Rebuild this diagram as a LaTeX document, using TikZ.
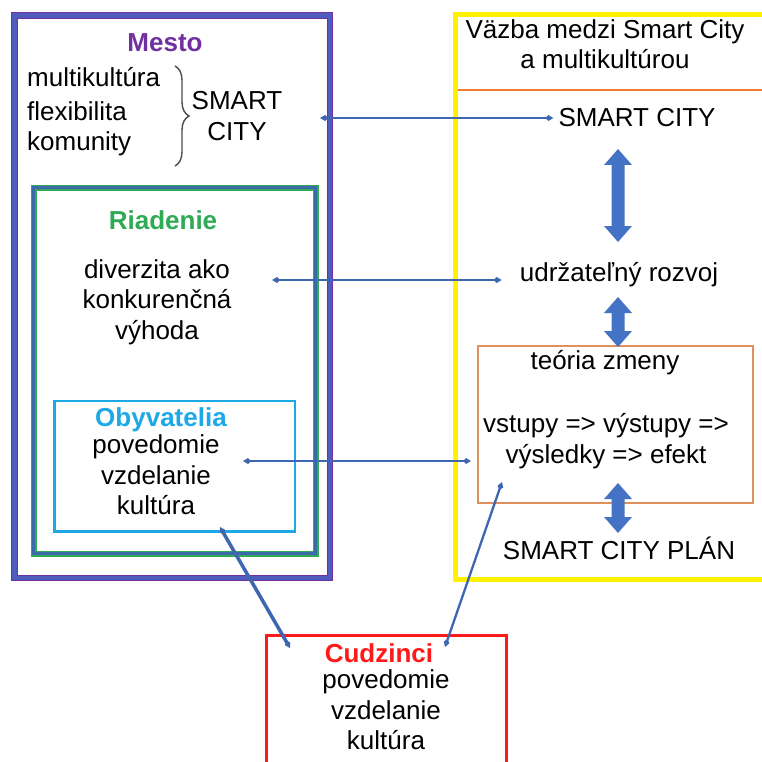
\documentclass[tikz,border=0pt]{standalone}
\usepackage{fontspec}
\setmainfont{Liberation Sans}
\usetikzlibrary{arrows.meta,decorations.pathreplacing}
\definecolor{mestopurple}{HTML}{7030A0}
\definecolor{mestoblue}{HTML}{4F5CBE}
\definecolor{riadgreen}{HTML}{2FAA55}
\definecolor{riadblue}{HTML}{3A6AA8}
\definecolor{obyvblue}{HTML}{1CA9E6}
\definecolor{frameyellow}{HTML}{FFF200}
\definecolor{lineorange}{HTML}{ED7D31}
\definecolor{boxorange}{HTML}{E0905E}
\definecolor{cudzred}{HTML}{FF1A1A}
\definecolor{connblue}{HTML}{3F66B0}
\definecolor{blockblue}{HTML}{4472C4}
% vertical double block arrow: x, top tip, bottom tip
\newcommand\vdblarrow[3]{%
  \fill[blockblue] (#1,#2) -- (#1+14,#2+16) -- (#1+6.5,#2+16) -- (#1+6.5,#3-16)
    -- (#1+14,#3-16) -- (#1,#3) -- (#1-14,#3-16) -- (#1-6.5,#3-16)
    -- (#1-6.5,#2+16) -- (#1-14,#2+16) -- cycle;}
\begin{document}
\begin{tikzpicture}[x=1pt,y=-1pt,
  txt/.style={inner sep=0pt, align=center, font=\fontsize{26}{30.5}\selectfont},
  ltxt/.style={txt, align=left},
  head/.style={txt, font=\fontsize{26}{30.5}\selectfont\bfseries},
  conn/.style={draw=connblue, line width=2.3pt, {Kite[length=8pt,width=6pt,inset=3pt]}-{Kite[length=8pt,width=6pt,inset=3pt]}},
  boxnode/.style={draw, inner sep=0pt}]
\useasboundingbox (0,0) rectangle (762,762);
\clip (0,0) rectangle (762,762);
\fill[white] (0,0) rectangle (762,762);

% outer city frame
\draw[mestopurple, line width=6.5pt] (14.5,15.5) rectangle (330,578);
\draw[mestoblue, line width=4.5pt] (14.5,15.5) rectangle (330,578);
% governance frame
\draw[riadgreen, line width=6pt] (33.5,187.5) rectangle (315.5,553.5);
\draw[riadblue, line width=3.5pt] (33.5,187.5) rectangle (315.5,553.5);
% residents frame
\node[boxnode, draw=obyvblue, line width=2.5pt, minimum width=240.5pt, minimum height=130.5pt] (obox) at (174.75,466.25) {};

% right frame
\draw[frameyellow, line width=5pt] (780,15) -- (455,15) -- (455,579) -- (780,579);
\draw[lineorange, line width=2.5pt] (457.5,90) -- (780,90);
\node[boxnode, draw=boxorange, line width=2pt, minimum width=275pt, minimum height=157pt] (tz) at (615.5,424.5) {};

% foreigners frame
\node[boxnode, draw=cudzred, line width=3pt, minimum width=240pt, minimum height=170pt] (cbox) at (386.5,720) {};

% texts on the left
\node[head, text=mestopurple] (mesto) at (165,43) {Mesto};
\node[ltxt, anchor=west] (multi) at (27,77) {multikultúra};
\node[ltxt, anchor=west] (flex) at (27,129) {flexibilita\\komunity};
\node[txt] (scL) at (237,116) {SMART\\CITY};
\draw[black!70, line width=1.4pt, decorate, decoration={brace, amplitude=14pt}] (175,66) -- (175,166);
\node[head, text=riadgreen] (riad) at (163,220) {Riadenie};
\node[txt] (div) at (157,302) {diverzita ako\\konkurenčná\\výhoda};
\node[head, text=obyvblue] (obyv) at (161,420) {Obyvatelia};
\node[txt] (obtxt) at (156,475) {povedomie\\vzdelanie\\kultúra};

% texts on the right
\node[txt] (hdr) at (605,44) {Väzba medzi Smart City\\a multikultúrou};
\node[txt] (scR) at (637,118) {SMART CITY};
\node[txt] (udr) at (619,275) {udržateľný rozvoj};
\node[txt] (teo) at (605,363) {teória zmeny};
\node[txt] (vst) at (606,441) {vstupy => výstupy =>\\výsledky => efekt};
\node[txt] (plan) at (619,548) {SMART CITY PLÁN};

% foreigners text
\node[head, text=cudzred] (cudz) at (379,653) {Cudzinci};
\node[txt] (cutxt) at (386,710) {povedomie\\vzdelanie\\kultúra};

% block arrows between the stages
\vdblarrow{618}{149}{242}
\vdblarrow{618}{297}{347}
\vdblarrow{618}{483}{533}

% connectors
\coordinate (e1) at (320,118);
\coordinate (e2) at (272,280);
\coordinate (e3) at (243,461);
\coordinate (e4) at (220,527);
\coordinate (e5) at (290,648);
\coordinate (e6) at (502,482);
\coordinate (e7) at (445,647);
\draw[conn, shorten >=5pt] (e1) -- (e1 -| scR.west);
\draw[conn, shorten >=18pt] (e2) -- (e2 -| udr.west);
\draw[conn, shorten >=6pt] (e3) -- (e3 -| tz.west);
\draw[conn, line width=3.5pt] (e4) -- (e5);
\draw[conn] (e6) -- (e7);
\end{tikzpicture}
\end{document}
